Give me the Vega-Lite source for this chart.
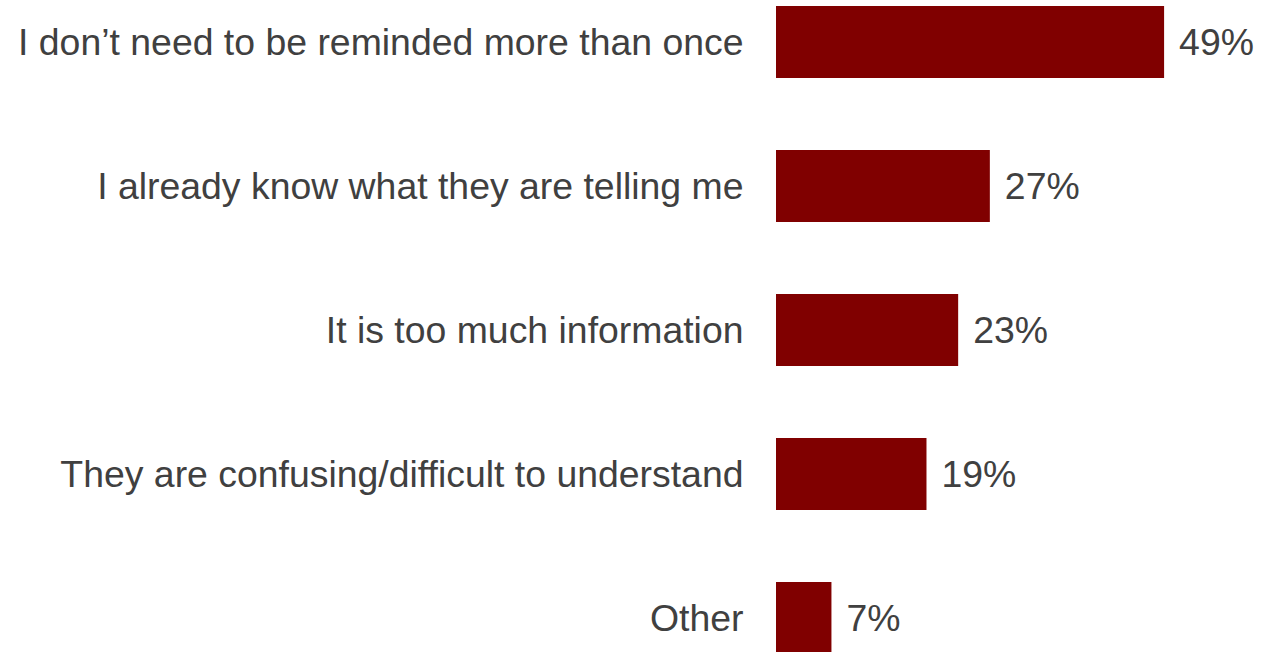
{
  "$schema": "https://vega.github.io/schema/vega-lite/v6.json",
  "autosize": "none",
  "padding": {"left": 776, "top": 0, "right": 0, "bottom": 0},
  "width": 505,
  "height": 660,
  "background": "white",
  "config": {"view": {"stroke": null}, "font": "Liberation Sans"},
  "data": {"values": [
    {"reason": "I don’t need to be reminded more than once", "pct": 49, "label": "49%"},
    {"reason": "I already know what they are telling me", "pct": 27, "label": "27%"},
    {"reason": "It is too much information", "pct": 23, "label": "23%"},
    {"reason": "They are confusing/difficult to understand", "pct": 19, "label": "19%"},
    {"reason": "Other", "pct": 7, "label": "7%"}
  ]},
  "encoding": {
    "y": {"field": "reason", "type": "nominal", "sort": null,
      "scale": {"paddingInner": 0.5, "paddingOuter": 0.0417},
      "axis": {"title": null, "domain": false, "ticks": false, "labelPadding": 33, "labelOffset": 2,
        "labelFontSize": 37.4, "labelColor": "#404040", "labelFont": "Liberation Sans", "labelLimit": 800}},
    "x": {"field": "pct", "type": "quantitative", "scale": {"domain": [0, 63.76]}, "axis": null}
  },
  "layer": [
    {"mark": {"type": "bar", "color": "#800000"}},
    {"mark": {"type": "text", "align": "left", "dx": 15, "dy": 2, "fontSize": 37.4, "color": "#404040", "font": "Liberation Sans"},
     "encoding": {"text": {"field": "label", "type": "nominal"}}}
  ]
}
